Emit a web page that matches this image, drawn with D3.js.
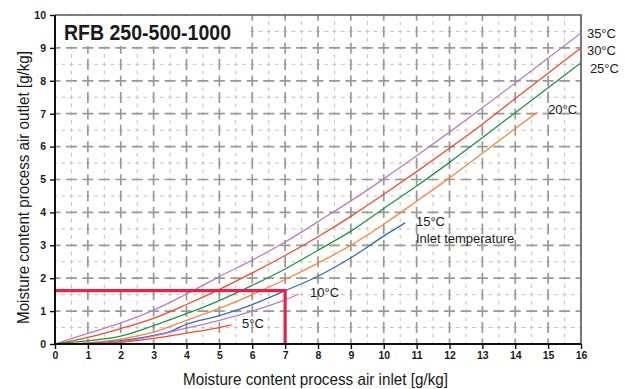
<!DOCTYPE html>
<html>
<head>
<meta charset="utf-8">
<script src="https://cdn.jsdelivr.net/npm/d3@7"></script>
<style>
  body { margin: 0; background: #fff; }
  text { font-family: "Liberation Sans", Arial, sans-serif; fill: #1a1a1a; }
</style>
</head>
<body>
<svg id="svg" width="625" height="389"></svg>
<script>
// curves: inlet moisture (x) -> outlet moisture (y), per inlet temp
const xFull = [0, 1, 2, 3, 4, 5, 6, 7, 8, 9, 10, 11, 12, 13, 14, 15, 16];
const y35 = [0, 0.32, 0.64, 1.03, 1.52, 2.05, 2.55, 3.1, 3.72, 4.35, 5.02, 5.72, 6.44, 7.18, 7.93, 8.69, 9.45];
const y30 = [0, 0.2, 0.47, 0.78, 1.2, 1.66, 2.16, 2.69, 3.26, 3.88, 4.55, 5.24, 5.95, 6.68, 7.46, 8.23, 9.0];
const y25 = [0, 0.1, 0.24, 0.56, 0.92, 1.32, 1.78, 2.28, 2.85, 3.43, 4.12, 4.8, 5.52, 6.27, 7.03, 7.79, 8.55];
const x20 = [0, 1, 2, 3, 4, 5, 6, 7, 8, 9, 10, 11, 12, 13, 14, 14.67];
const y20 = [0, 0.04, 0.15, 0.36, 0.72, 1.08, 1.5, 1.96, 2.46, 3.0, 3.64, 4.34, 5.05, 5.8, 6.55, 7.04];
const x15 = [0, 1, 2, 3, 3.5, 4, 5, 6, 7, 8, 9, 10, 10.65];
const y15 = [0, 0.02, 0.1, 0.26, 0.38, 0.6, 0.86, 1.2, 1.62, 2.06, 2.62, 3.28, 3.68];
const x10 = [0, 1, 2, 3, 4, 5, 6, 7, 7.42];
const y10 = [0, 0.01, 0.07, 0.24, 0.48, 0.72, 1.0, 1.34, 1.52];
const x5 = [0, 1, 2, 3, 4, 5, 5.37];
const y5 = [0, 0.01, 0.05, 0.17, 0.33, 0.5, 0.58];

const series = [
    { name: '35°C', xs: xFull, ys: y35, color: '#b77fca' },
    { name: '30°C', xs: xFull, ys: y30, color: '#f04e25' },
    { name: '25°C', xs: xFull, ys: y25, color: '#1f9447' },
    { name: '20°C', xs: x20, ys: y20, color: '#f7873a' },
    { name: '15°C', xs: x15, ys: y15, color: '#2f6cc0' },
    { name: '10°C', xs: x10, ys: y10, color: '#b77fca' },
    { name: '5°C', xs: x5, ys: y5, color: '#f04e25' },
];

// curve labels (data units, left/baseline)
const labelText = ['35°C', '30°C', '25°C', '20°C', '15°C', 'Inlet temperature', '10°C', '5°C'];
const labelX = [16.18, 16.18, 16.27, 15.0, 10.98, 10.98, 7.76, 5.69];
const labelY = [9.3, 8.78, 8.24, 6.99, 3.59, 3.07, 1.43, 0.49];

// example reading marked in red
const markX = 7;
const markY = 1.62;

const xTicks = d3.range(0, 17);
const yTicks = d3.range(0, 11);

const svg = d3.select('#svg');
const x = d3.scaleLinear().domain([0, 16]).range([55, 581]);
const y = d3.scaleLinear().domain([0, 10]).range([344, 15]);
const half = (x(1) - x(0)) / 2;

// minor grid (half units)
const minor = svg.append('g')
    .attr('stroke', '#c4c4c4')
    .attr('stroke-width', 1)
    .attr('stroke-dasharray', '4,' + (half / 2 - 4))
    .attr('stroke-dashoffset', 2);
d3.range(0.5, 16, 1).forEach(v => {
    minor.append('line').attr('x1', x(v)).attr('x2', x(v)).attr('y1', y(10)).attr('y2', y(0));
});
d3.range(0.5, 10, 1).forEach(v => {
    minor.append('line').attr('y1', y(v)).attr('y2', y(v)).attr('x1', x(0)).attr('x2', x(16));
});

// major grid
const major = svg.append('g')
    .attr('stroke', '#999')
    .attr('stroke-width', 1.7)
    .attr('stroke-dasharray', '11,' + (half - 11))
    .attr('stroke-dashoffset', 5.5);
d3.range(1, 16).forEach(v => {
    major.append('line').attr('x1', x(v)).attr('x2', x(v)).attr('y1', y(0)).attr('y2', y(10));
});
d3.range(1, 10).forEach(v => {
    major.append('line').attr('y1', y(v)).attr('y2', y(v)).attr('x1', x(0)).attr('x2', x(16));
});

// title box
svg.append('rect')
    .attr('x', x(0) + 1).attr('y', y(10) + 1)
    .attr('width', 194).attr('height', 30)
    .attr('fill', '#fff');
svg.append('text')
    .attr('x', 64).attr('y', 40)
    .attr('font-size', 22).attr('font-weight', 'bold')
    .attr('textLength', 167).attr('lengthAdjust', 'spacingAndGlyphs')
    .text('RFB 250-500-1000');

// frame
svg.append('path')
    .attr('d', `M${x(0)},${y(10)}H${x(16)}V${y(0)}`)
    .attr('fill', 'none').attr('stroke', '#555').attr('stroke-width', 1.6);

// curves
const line = d3.line().curve(d3.curveMonotoneX).x(d => x(d[0])).y(d => y(d[1]));
svg.append('g').selectAll('path')
    .data(series)
    .join('path')
    .attr('d', s => line(s.xs.map((v, i) => [v, s.ys[i]])))
    .attr('fill', 'none')
    .attr('stroke', s => s.color)
    .attr('stroke-width', 1.3);

// red reading line
svg.append('path')
    .attr('d', `M${x(0)},${y(markY)}H${x(markX)}V${y(0)}`)
    .attr('fill', 'none').attr('stroke', '#e8234b').attr('stroke-width', 3.2);

// axes
const xAxis = svg.append('g')
    .attr('transform', `translate(0,${y(0)})`)
    .call(d3.axisBottom(x).tickValues(xTicks).tickSize(5).tickPadding(3).tickFormat(d3.format('d')));
const yAxis = svg.append('g')
    .attr('transform', `translate(${x(0)},0)`)
    .call(d3.axisLeft(y).tickValues(yTicks).tickSize(5).tickPadding(4).tickFormat(d3.format('d')));
[xAxis, yAxis].forEach(a => {
    a.select('.domain').attr('stroke', '#111').attr('stroke-width', 2);
    a.selectAll('.tick line').attr('stroke', '#111').attr('stroke-width', 1.4);
    a.selectAll('.tick text')
        .attr('font-family', '"Liberation Sans", Arial, sans-serif')
        .attr('font-size', 10.5).attr('font-weight', 'bold').attr('fill', '#1a1a1a');
});
xAxis.select('.domain').attr('d', `M${x(0)},0H${x(16)}`);
yAxis.select('.domain').attr('d', `M0,${y(0)}V${y(10)}`);

// axis titles
svg.append('text')
    .attr('x', 315.5).attr('y', 385)
    .attr('text-anchor', 'middle').attr('font-size', 17)
    .attr('textLength', 265).attr('lengthAdjust', 'spacingAndGlyphs')
    .text('Moisture content process air inlet [g/kg]');
svg.append('text')
    .attr('transform', 'translate(29,187.5) rotate(-90)')
    .attr('text-anchor', 'middle').attr('font-size', 17)
    .attr('textLength', 273).attr('lengthAdjust', 'spacingAndGlyphs')
    .text('Moisture content process air outlet [g/kg]');

// curve labels
svg.append('g').selectAll('text')
    .data(labelText)
    .join('text')
    .attr('x', (d, i) => x(labelX[i]))
    .attr('y', (d, i) => y(labelY[i]))
    .attr('font-size', 13)
    .text(d => d);
</script>
</body>
</html>
